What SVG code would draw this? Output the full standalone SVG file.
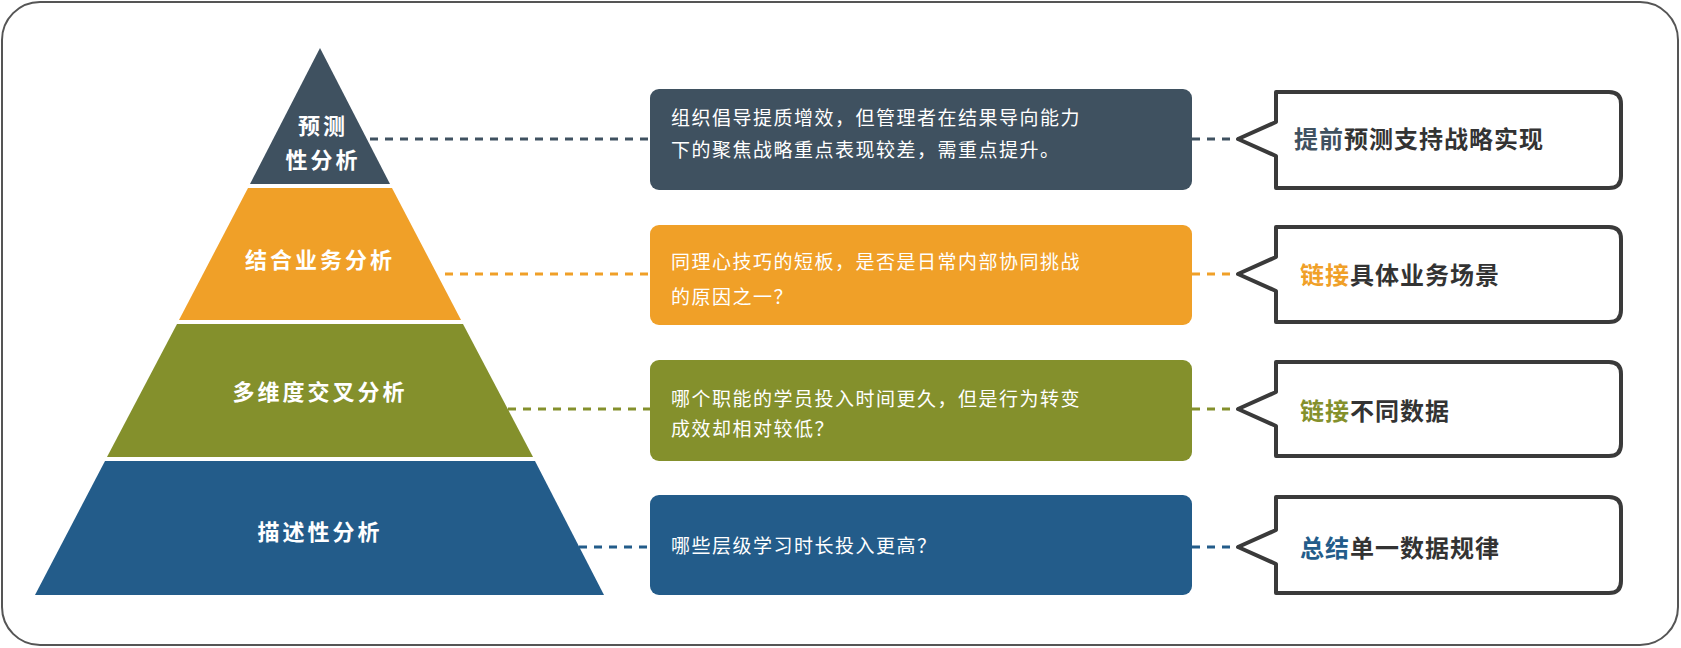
<svg xmlns="http://www.w3.org/2000/svg" width="1681" height="648" viewBox="0 0 1681 648">
<style>
.pl{fill:#fff;font-family:"Noto Sans CJK SC",sans-serif;font-weight:bold;font-size:22px;text-anchor:middle;letter-spacing:3px}
.bt{fill:#fff;font-family:"Noto Sans CJK SC",sans-serif;font-size:19px;letter-spacing:1.5px}
.ct{fill:#333;font-family:"Noto Sans CJK SC",sans-serif;font-weight:bold;font-size:24px;letter-spacing:1px}
.co{fill:#fff;stroke:#3a3a3a;stroke-width:4;stroke-linejoin:round}
.dl{stroke-width:3;stroke-dasharray:8 7;fill:none}
</style>
<rect x="2" y="2" width="1676" height="643" rx="38" fill="#fff" stroke="#555" stroke-width="2"/>
<g id="connectors">
<line class="dl" stroke="#3f5160" x1="370" y1="139" x2="650" y2="139"/>
<line class="dl" stroke="#3f5160" x1="1192" y1="139" x2="1238" y2="139"/>
<line class="dl" stroke="#f0a028" x1="445" y1="274" x2="650" y2="274"/>
<line class="dl" stroke="#f0a028" x1="1192" y1="274" x2="1238" y2="274"/>
<line class="dl" stroke="#84902c" x1="508" y1="409" x2="650" y2="409"/>
<line class="dl" stroke="#84902c" x1="1192" y1="409" x2="1238" y2="409"/>
<line class="dl" stroke="#235c8a" x1="579" y1="547" x2="650" y2="547"/>
<line class="dl" stroke="#235c8a" x1="1192" y1="547" x2="1238" y2="547"/>
</g>
<g id="pyr-top"><polygon points="320,48 390,184 250,184" fill="#3f5160"/>
<text class="pl" x="323" y="134">预测</text><text class="pl" x="323" y="168">性分析</text></g>
<g id="pyr-2"><polygon points="248,188 392,188 461,320 179,320" fill="#f0a028"/>
<text class="pl" x="320" y="268">结合业务分析</text></g>
<g id="pyr-3"><polygon points="177,324 463,324 533,457 107,457" fill="#84902c"/>
<text class="pl" x="320" y="400">多维度交叉分析</text></g>
<g id="pyr-4"><polygon points="105,461 535,461 604,595 35,595" fill="#235c8a"/>
<text class="pl" x="320" y="540">描述性分析</text></g>
<g id="box1"><rect x="650" y="89" width="542" height="101" rx="9" fill="#3f5160"/>
<text class="bt" x="671" y="125">组织倡导提质增效，但管理者在结果导向能力</text>
<text class="bt" x="671" y="157">下的聚焦战略重点表现较差，需重点提升。</text></g>
<g id="box2"><rect x="650" y="225" width="542" height="100" rx="9" fill="#f0a028"/>
<text class="bt" x="671" y="269">同理心技巧的短板，是否是日常内部协同挑战</text>
<text class="bt" x="671" y="304">的原因之一？</text></g>
<g id="box3"><rect x="650" y="360" width="542" height="101" rx="9" fill="#84902c"/>
<text class="bt" x="671" y="406">哪个职能的学员投入时间更久，但是行为转变</text>
<text class="bt" x="671" y="436">成效却相对较低？</text></g>
<g id="box4"><rect x="650" y="495" width="542" height="100" rx="9" fill="#235c8a"/>
<text class="bt" x="671" y="553">哪些层级学习时长投入更高？</text></g>
<g id="call1"><path class="co" d="M1276,92 H1609 Q1621,92 1621,104 V176 Q1621,188 1609,188 H1276 V156 L1238,139 L1276,122 Z"/>
<text class="ct" x="1294" y="148"><tspan fill="#3f5160">提前</tspan>预测支持战略实现</text></g>
<g id="call2"><path class="co" d="M1276,227 H1609 Q1621,227 1621,239 V310 Q1621,322 1609,322 H1276 V291 L1238,274 L1276,257 Z"/>
<text class="ct" x="1300" y="284"><tspan fill="#f0a028">链接</tspan>具体业务场景</text></g>
<g id="call3"><path class="co" d="M1276,362 H1609 Q1621,362 1621,374 V444 Q1621,456 1609,456 H1276 V426 L1238,409 L1276,392 Z"/>
<text class="ct" x="1300" y="420"><tspan fill="#84902c">链接</tspan>不同数据</text></g>
<g id="call4"><path class="co" d="M1276,497 H1609 Q1621,497 1621,509 V581 Q1621,593 1609,593 H1276 V564 L1238,547 L1276,530 Z"/>
<text class="ct" x="1300" y="557"><tspan fill="#235c8a">总结</tspan>单一数据规律</text></g>
</svg>
